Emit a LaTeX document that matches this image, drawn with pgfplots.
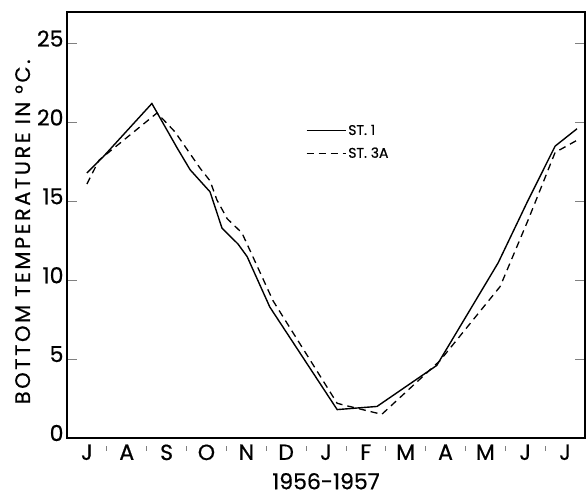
\documentclass[border=0pt]{standalone}
\usepackage{fontspec}
\setmainfont{Poppins}[FakeBold=0.6, AutoFakeBold=0.6]
\usepackage{pgfplots}
\pgfplotsset{compat=1.18}
\pgfplotstableread{
m T
0.50 16.8
0.90 17.8
2.13 21.2
2.76 18.4
3.09 17.0
3.59 15.6
3.89 13.3
4.29 12.3
4.52 11.5
5.09 8.3
6.78 1.8
7.28 1.9
7.78 2.0
9.28 4.6
10.82 11.1
11.54 14.9
12.25 18.5
12.80 19.6
}\stone
\pgfplotstableread{
m T
0.50 16.1
0.80 17.6
2.26 20.6
2.71 19.4
3.34 17.1
3.59 16.3
3.76 15.1
4.02 13.9
4.39 13.0
4.59 11.9
5.17 8.7
6.78 2.2
6.93 2.1
7.90 1.5
9.36 4.9
10.87 9.6
11.57 13.8
12.25 18.1
12.82 18.9
}\sttha
\newfontfamily\labfont[LetterSpace=12, FakeBold=0.6]{Poppins}
\begin{document}
\begin{tikzpicture}
\begin{axis}[
  scale only axis, width=518pt, height=426pt,
  xmin=0, xmax=13, ymin=0, ymax=27,
  axis line style={line width=1.1pt},
  tick align=inside,
  xtick={0.5,1.5,...,12.5},
  xticklabels={J,A,S,O,N,D,J,F,M,A,M,J,J},
  major x tick style={draw=none},
  minor xtick={1,...,12},
  minor tick length=5pt,
  minor x tick style={yshift=-13pt, line width=0.8pt},
  xtick pos=bottom,
  ytick={0,5,...,25},
  ytick pos=both, yticklabel pos=left,
  major tick length=10pt,
  y tick style={line width=0.8pt},
  /pgf/number format/assume math mode=true,
  tick label style={font=\fontsize{22}{24}\selectfont},
  y tick label style={yshift=5pt},
  x tick label style={yshift=-3pt},
  xlabel={1956-1957},
  ylabel={BOTTOM TEMPERATURE IN °C.},
  x label style={font=\fontsize{22}{24}\selectfont, yshift=-6pt},
  y label style={font=\labfont\fontsize{21}{24}\selectfont, at={(ticklabel cs:0.484)}},
  legend style={draw=none, fill=none, at={(0.455,0.745)}, anchor=north west,
    font=\fontsize{14}{16}\selectfont, row sep=7pt},
  legend image code/.code={\draw[#1] (0pt,0pt) -- (39pt,0pt);},
  legend cell align=left,
]
\addplot[black, line width=1.4pt] table[x=m,y=T] {\stone};
\addlegendentry{ST. 1}
\addplot[black, line width=1.3pt, dash pattern=on 7pt off 5pt] table[x=m,y=T] {\sttha};
\addlegendentry{ST. 3A}
\end{axis}
\pgfresetboundingbox
\path[use as bounding box] ([xshift=-67pt,yshift=-59pt]current axis.south west) rectangle ([xshift=1pt,yshift=12pt]current axis.north east);
\end{tikzpicture}
\end{document}
